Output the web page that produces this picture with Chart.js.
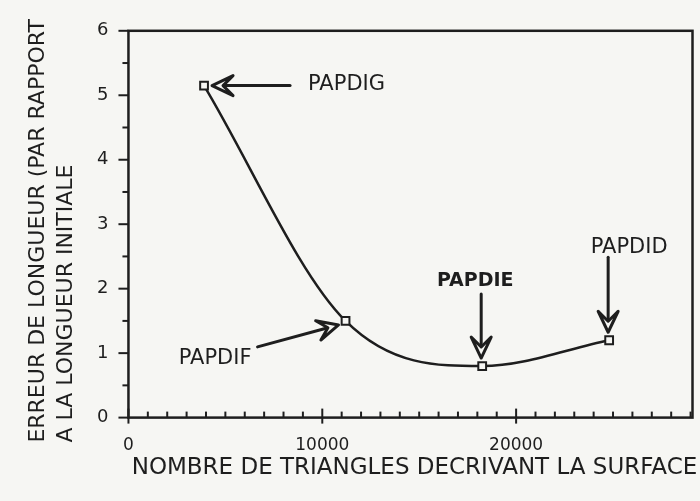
<!DOCTYPE html>
<html>
<head>
<meta charset="utf-8">
<script src="https://cdn.jsdelivr.net/npm/chart.js@4.4.1/dist/chart.umd.min.js"></script>
<style>
  html, body { margin: 0; padding: 0; background: #f6f6f3; }
  #wrap { width: 700px; height: 501px; }
</style>
</head>
<body>
<div id="wrap"><canvas id="chart" width="700" height="501"></canvas></div>
<script>
// Longueur error vs number of triangles, one point per mesh
const meshNames = ['PAPDIG', 'PAPDIF', 'PAPDIE', 'PAPDID'];
const triangleCounts = [3900, 11200, 18250, 24800];
const lengthErrors = [5.15, 1.5, 0.8, 1.2];

const xTickValues = [0, 10000, 20000];
const yTickValues = [0, 1, 2, 3, 4, 5, 6];

const xTitle = 'NOMBRE DE TRIANGLES DECRIVANT LA SURFACE';
const yTitleLines = ['ERREUR DE LONGUEUR (PAR RAPPORT', 'A LA LONGUEUR INITIALE'];

const INK = '#1e1e1e';
const PAPER = '#f6f6f3';
const FONT = "'DejaVu Sans', sans-serif";

// where each name label and its arrow sit, relative to the marker (px)
const calloutLayout = {
  PAPDIG: { tip: [8, 0], tail: [86, 0], text: [104, -1], align: 'left', font: '21px' },
  PAPDIF: { tip: [-7, 4], tail: [-88, 26], text: [-94, 38], align: 'right', font: '21px' },
  PAPDIE: { tip: [-1, -8], tail: [-1, -72], text: [-7, -85], align: 'center', font: 'bold 19px' },
  PAPDID: { tip: [-1, -8], tail: [-1, -83], text: [20, -93], align: 'center', font: '21px' }
};

function drawArrow(ctx, x1, y1, x2, y2) {
  const ang = Math.atan2(y2 - y1, x2 - x1);
  const len = 21, half = 10, notch = 11;
  ctx.save();
  ctx.strokeStyle = INK;
  ctx.lineWidth = 3;
  ctx.lineCap = 'round';
  ctx.beginPath();
  ctx.moveTo(x1, y1);
  ctx.lineTo(x2 - Math.cos(ang) * notch, y2 - Math.sin(ang) * notch);
  ctx.stroke();
  // hollow notched head
  ctx.translate(x2, y2);
  ctx.rotate(ang);
  ctx.lineJoin = 'round';
  ctx.beginPath();
  ctx.moveTo(0, 0);
  ctx.lineTo(-len, -half);
  ctx.lineTo(-notch, 0);
  ctx.lineTo(-len, half);
  ctx.closePath();
  ctx.fillStyle = PAPER;
  ctx.fill();
  ctx.stroke();
  ctx.restore();
}

const framePlugin = {
  id: 'frame',
  beforeDraw(chart) {
    const { ctx, chartArea: a, scales } = chart;
    ctx.save();
    ctx.strokeStyle = INK;
    ctx.lineWidth = 2.5;
    ctx.strokeRect(a.left, a.top, a.right - a.left, a.bottom - a.top);
    ctx.lineWidth = 2;
    // ticks on the y axis every 0.5, outside the frame
    for (let v = 0; v <= 6; v += 0.5) {
      const y = scales.y.getPixelForValue(v);
      ctx.beginPath();
      ctx.moveTo(a.left - (v % 1 === 0 ? 10 : 6), y);
      ctx.lineTo(a.left, y);
      ctx.stroke();
    }
    // ticks along the x axis every 1000, pointing up
    for (let v = 0; v <= scales.x.max; v += 1000) {
      const x = scales.x.getPixelForValue(v);
      const major = v % 10000 === 0;
      ctx.beginPath();
      ctx.moveTo(x, a.bottom + (major ? 6 : 0));
      ctx.lineTo(x, a.bottom - (major ? 9 : 6));
      ctx.stroke();
    }

    // axis titles; the y title lines both start from the bottom
    ctx.fillStyle = INK;
    ctx.textBaseline = 'middle';
    ctx.textAlign = 'center';
    ctx.font = '23px ' + FONT;
    ctx.fillText(xTitle, (a.left + a.right) / 2 + 4, a.bottom + 50);
    ctx.font = '22px ' + FONT;
    ctx.textAlign = 'left';
    yTitleLines.forEach((line, i) => {
      ctx.save();
      ctx.translate(a.left - 90 + i * 28, a.bottom + 25);
      ctx.rotate(-Math.PI / 2);
      ctx.fillText(line, 0, 0);
      ctx.restore();
    });
    ctx.restore();
  },
  afterDatasetsDraw(chart) {
    const { ctx, scales } = chart;
    ctx.save();
    ctx.fillStyle = INK;
    ctx.textBaseline = 'middle';
    meshNames.forEach((name, i) => {
      const px = scales.x.getPixelForValue(triangleCounts[i]);
      const py = scales.y.getPixelForValue(lengthErrors[i]);
      const c = calloutLayout[name];
      drawArrow(ctx, px + c.tail[0], py + c.tail[1], px + c.tip[0], py + c.tip[1]);
      ctx.font = c.font + ' ' + FONT;
      ctx.textAlign = c.align;
      ctx.fillText(name, px + c.text[0], py + c.text[1]);
    });
    ctx.restore();
  }
};

new Chart(document.getElementById('chart'), {
  type: 'line',
  data: {
    datasets: [{
      data: triangleCounts.map((x, i) => ({ x, y: lengthErrors[i] })),
      borderColor: INK,
      borderWidth: 2.5,
      cubicInterpolationMode: 'monotone',
      pointStyle: 'rect',
      pointRadius: 5.5,
      pointBorderWidth: 2,
      pointBorderColor: INK,
      pointBackgroundColor: PAPER,
      fill: false
    }]
  },
  options: {
    responsive: false,
    animation: false,
    layout: { padding: { left: 77, right: 7, top: 28, bottom: 27 } },
    plugins: { legend: { display: false }, tooltip: { enabled: false } },
    scales: {
      x: {
        type: 'linear',
        min: 0,
        max: 29100,
        afterBuildTicks: s => { s.ticks = xTickValues.map(value => ({ value })); },
        grid: { display: false, drawTicks: false },
        border: { display: false },
        ticks: {
          color: INK,
          font: { family: FONT, size: 17 },
          padding: 18,
          maxRotation: 0,
          callback: v => String(v)
        }
      },
      y: {
        min: 0,
        max: 6,
        afterBuildTicks: s => { s.ticks = yTickValues.map(value => ({ value })); },
        grid: { display: false, drawTicks: false },
        border: { display: false },
        ticks: { color: INK, font: { family: FONT, size: 18 }, padding: 20 }
      }
    }
  },
  plugins: [framePlugin]
});
</script>
</body>
</html>
